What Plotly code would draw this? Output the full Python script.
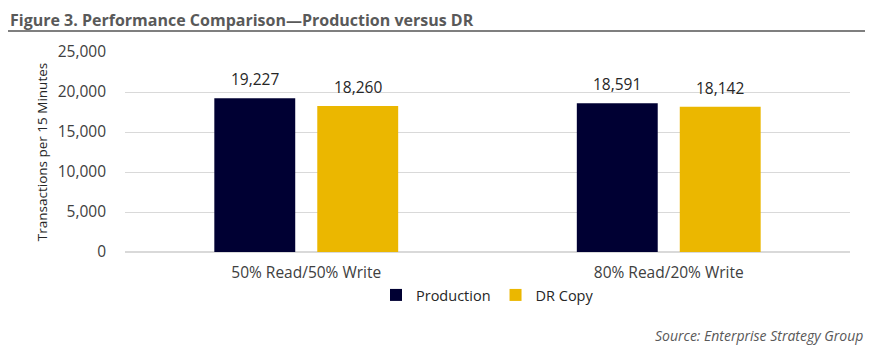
import plotly.graph_objects as go

categories = ["50% Read/50% Write", "80% Read/20% Write"]
production = [19227, 18591]
dr_copy = [18260, 18142]
y_ticks = [0, 5000, 10000, 15000, 20000, 25000]

FONT = "Open Sans"
fig = go.Figure()
fig.add_trace(go.Bar(name="Production", x=categories, y=production,
                     marker=dict(color="#000033", line=dict(width=0))))
fig.add_trace(go.Bar(name="DR Copy", x=categories, y=dr_copy,
                     marker=dict(color="#EBB700", line=dict(width=0))))

# value labels above bars
annotations = []
for series, shift in ((production, -51.5), (dr_copy, 51.5)):
    for cat, v in zip(categories, series):
        annotations.append(dict(x=cat, y=v, text=f"{v:,}", xref="x", yref="y",
                                xshift=shift, yshift=6, yanchor="bottom", xanchor="center",
                                showarrow=False, font=dict(size=15.5, color="#262626", family=FONT)))

annotations += [
    dict(text="<b>Figure 3. Performance Comparison\u2014Production versus DR</b>",
         xref="paper", yref="paper", x=-0.1614, y=1.16, xanchor="left", yanchor="middle",
         showarrow=False, font=dict(size=16, color="#595959", family=FONT)),
    dict(text="<i>Source: Enterprise Strategy Group</i>",
         xref="paper", yref="paper", x=1.0207, y=-0.415, xanchor="right", yanchor="middle",
         showarrow=False, font=dict(size=14, color="#595959", family=FONT)),
]

fig.update_layout(
    width=857, height=339,
    margin=dict(l=117, r=15, t=44, b=95),
    paper_bgcolor="white", plot_bgcolor="white",
    barmode="group", bargap=0.432, bargroupgap=0.214,
    font=dict(family=FONT, size=14, color="#404040"),
    showlegend=True,
    legend=dict(orientation="h", x=0.5, xanchor="center", y=-0.215, yanchor="middle",
                bgcolor="rgba(0,0,0,0)",
                font=dict(size=14.5, color="#262626"), itemwidth=30, traceorder="normal"),
    xaxis=dict(showgrid=False, showline=False, ticks="", ticklabelstandoff=9,
               tickfont=dict(size=15.5, color="#404040")),
    yaxis=dict(range=[0, 25000], tickvals=y_ticks, tickformat=",", showgrid=True,
               gridcolor="#d9d9d9", gridwidth=1, zeroline=True, zerolinecolor="#d9d9d9",
               showline=False, ticks="", ticklabelstandoff=18,
               tickfont=dict(size=15.5, color="#404040"),
               title=dict(text="Transactions per 15 Minutes", font=dict(size=13.5, color="#262626"), standoff=6)),
    annotations=annotations,
    shapes=[dict(type="line", xref="paper", yref="paper", x0=-0.1614, x1=1.0207, y0=1.105, y1=1.105,
                 line=dict(color="black", width=1.2))],
)

fig.write_html("out.html")
